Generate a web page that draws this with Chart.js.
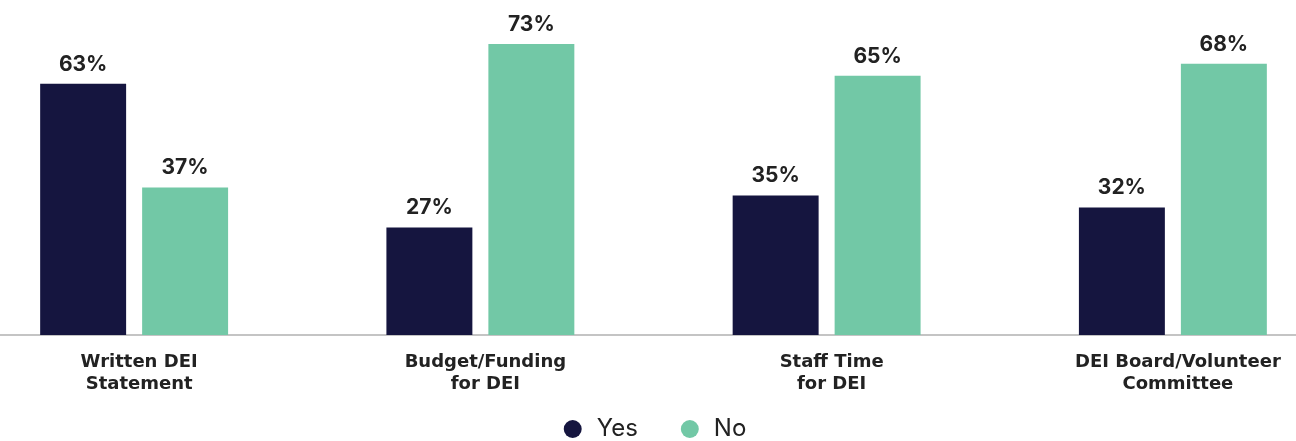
<!DOCTYPE html>
<html>
<head>
<meta charset="utf-8">
<script src="https://cdn.jsdelivr.net/npm/chart.js@4/dist/chart.umd.min.js"></script>
<style>
  html, body { margin: 0; padding: 0; background: #fff; overflow: hidden; width: 1296px; height: 441px; }
  /* zone plus large que la fenêtre pour caler les groupes comme sur la maquette */
  #wrap { width: 1385px; height: 485px; position: absolute; left: -39px; top: 0; }
</style>
</head>
<body>
<div id="wrap"><canvas id="chart"></canvas></div>
<script>
// données
const categories = [
  ['Written DEI', 'Statement'],
  ['Budget/Funding', 'for DEI'],
  ['Staff Time', 'for DEI'],
  ['DEI Board/Volunteer', 'Committee']
];
const seriesNames = ['Yes', 'No'];
const yesValues = [63, 27, 35, 32];
const noValues = [37, 73, 65, 68];

const TEXT = '#222222';

// étiquettes au-dessus des barres
const barLabels = {
  id: 'barLabels',
  afterDatasetsDraw(chart) {
    const ctx = chart.ctx;
    ctx.save();
    ctx.font = 'bold 21px Inter';
    ctx.fillStyle = TEXT;
    ctx.textAlign = 'center';
    ctx.textBaseline = 'alphabetic';
    chart.data.datasets.forEach((ds, i) => {
      chart.getDatasetMeta(i).data.forEach((bar, j) => {
        ctx.fillText(ds.data[j] + '%', bar.x, bar.y - 13);
      });
    });
    ctx.restore();
  }
};

// remonte la légende sous les libellés (le padding sert aussi d'écart entre items)
const legendShift = {
  id: 'legendShift',
  afterLayout(chart) {
    chart.legend.top -= 34;
    chart.legend.bottom -= 34;
  }
};

new Chart(document.getElementById('chart'), {
  type: 'bar',
  data: {
    labels: categories,
    datasets: [
      { label: seriesNames[0], data: yesValues, backgroundColor: '#15153f' },
      { label: seriesNames[1], data: noValues, backgroundColor: '#72c8a6' }
    ]
  },
  options: {
    responsive: true,
    maintainAspectRatio: false,
    animation: false,
    categoryPercentage: 0.589,
    barPercentage: 0.843,
    layout: { padding: 0 },
    plugins: {
      tooltip: { enabled: false },
      legend: {
        position: 'bottom',
        labels: {
          color: TEXT,
          font: { family: 'Inter', size: 24 },
          usePointStyle: true,
          pointStyle: 'circle',
          boxWidth: 24,
          boxHeight: 12.7,
          padding: 40
        }
      }
    },
    scales: {
      x: {
        grid: { display: false, drawTicks: false },
        border: { display: true, color: '#c4c4c4', width: 2 },
        ticks: {
          color: TEXT,
          font: { family: 'DejaVu Sans', size: 18, weight: 'bold', lineHeight: 1.22 },
          padding: 16,
          labelOffset: 5,
          maxRotation: 0,
          autoSkip: false
        }
      },
      y: {
        display: false,
        min: 0,
        max: 84
      }
    }
  },
  plugins: [barLabels, legendShift]
});
</script>
</body>
</html>
